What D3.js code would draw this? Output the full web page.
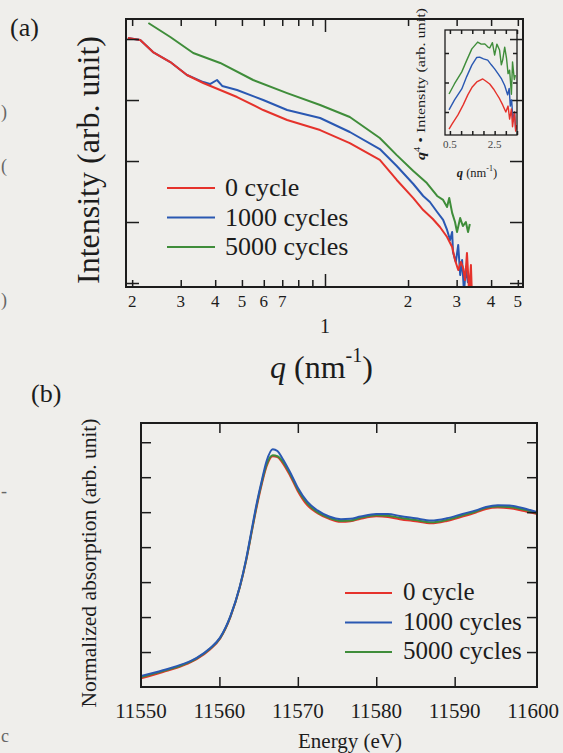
<!DOCTYPE html>
<html>
<head>
<meta charset="utf-8">
<script src="https://cdn.jsdelivr.net/npm/d3@7"></script>
<style>
  html, body { margin: 0; padding: 0; background: #efeeeb; }
  svg { display: block; }
  text { font-family: "Liberation Serif", "Times New Roman", serif; fill: #1c1c1c; }
</style>
</head>
<body>
<script>
// (a) SAXS profiles: q (nm^-1) and intensity (arb. unit)
var q0 = [0.193, 0.214, 0.238, 0.275, 0.316, 0.362, 0.417, 0.48, 0.597, 0.729, 0.96, 1.23, 1.58, 1.82, 2.09, 2.27, 2.46, 2.61, 2.77, 2.89, 2.96, 3.04, 3.11, 3.16, 3.22, 3.27, 3.33, 3.38, 3.41];
var int0 = [10400, 9640, 6120, 4200, 2570, 1900, 1460, 1120, 685, 470, 322, 197, 104, 48.9, 24.7, 15.7, 11.2, 8.28, 5.68, 3.89, 2.38, 1.63, 2.21, 1.83, 1.12, 3.1, 0.7, 1.97, 0.6];

var q1000 = [0.193, 0.214, 0.238, 0.275, 0.316, 0.362, 0.383, 0.406, 0.424, 0.48, 0.597, 0.729, 0.96, 1.23, 1.58, 1.82, 2.09, 2.27, 2.4, 2.55, 2.68, 2.77, 2.84, 2.89, 2.91, 2.98, 3.04, 3.09, 3.14, 3.19, 3.24, 3.3];
var int1000 = [10400, 9640, 6120, 4200, 2570, 1970, 1830, 2130, 1700, 1460, 1000, 685, 507, 299, 157, 82.8, 42.0, 26.7, 21.3, 14.6, 10.8, 7.4, 5.07, 6.85, 3.22, 2.21, 4.2, 1.35, 2.38, 0.7, 1.76, 1.0];

var q5000 = [0.229, 0.275, 0.333, 0.417, 0.549, 0.729, 0.96, 1.23, 1.58, 1.82, 2.09, 2.34, 2.55, 2.68, 2.77, 2.82, 2.89, 2.96, 3.01, 3.09, 3.16, 3.24, 3.3, 3.35];
var int5000 = [18300, 10800, 5890, 4050, 2130, 1300, 828, 526, 238, 125, 68.5, 43.6, 26.7, 23.0, 17.6, 24.7, 14.1, 10.0, 6.85, 11.6, 8.59, 10.0, 6.85, 9.27];

// inset: q^4 * intensity
var insetQ0 = [0.46, 0.6, 0.86, 1.1, 1.3, 1.5, 1.7, 1.97, 2.1, 2.28, 2.45, 2.59, 2.72, 2.86, 3.0, 3.1, 3.17, 3.25, 3.3, 3.39, 3.44, 3.48];
var insetV0 = [0.42, 0.6, 0.9, 1.25, 1.58, 1.85, 2.02, 2.12, 2.05, 1.95, 1.78, 1.61, 1.45, 1.24, 1.0, 1.2, 0.76, 1.1, 0.5, 1.0, 0.35, 0.56];
var insetQ1000 = [0.46, 0.7, 1.03, 1.25, 1.48, 1.7, 1.83, 2.0, 2.19, 2.35, 2.5, 2.65, 2.81, 2.95, 3.08, 3.15, 3.2, 3.26, 3.32, 3.39, 3.44, 3.48];
var insetV1000 = [1.07, 1.4, 1.78, 2.2, 2.59, 2.85, 2.86, 2.8, 2.76, 2.6, 2.46, 2.3, 2.12, 1.9, 1.58, 1.8, 1.2, 1.41, 0.7, 1.0, 0.4, 0.56];
var insetQ5000 = [0.46, 0.7, 1.03, 1.25, 1.48, 1.74, 1.9, 2.06, 2.2, 2.28, 2.4, 2.5, 2.6, 2.72, 2.8, 2.86, 2.95, 3.03, 3.1, 3.17, 3.25, 3.3, 3.38, 3.43];
var insetV5000 = [1.61, 1.95, 2.36, 2.75, 3.14, 3.37, 3.3, 3.31, 3.2, 3.17, 3.35, 2.93, 3.3, 3.1, 2.6, 2.76, 3.2, 2.83, 2.3, 2.42, 1.6, 2.7, 2.1, 2.25];

// (b) XANES: energy (eV) and normalized absorption
var xasEnergy = [11550, 11552.8, 11555.4, 11557.1, 11558.8, 11560.1, 11561.4, 11562.6, 11563.4, 11564.2, 11564.8, 11565.4, 11566.0, 11566.8, 11567.4, 11568.0, 11569.0, 11570.0, 11571.2, 11572.5, 11574.0, 11575.5, 11576.7, 11578.0, 11580.0, 11581.5, 11583.0, 11585.0, 11587.0, 11589.0, 11591.0, 11592.7, 11594.0, 11595.5, 11597.0, 11598.5, 11600.5];
var xas0 = [0.05, 0.086, 0.124, 0.16, 0.215, 0.278, 0.40, 0.57, 0.72, 0.905, 1.04, 1.16, 1.26, 1.32, 1.315, 1.285, 1.21, 1.12, 1.04, 0.995, 0.962, 0.945, 0.948, 0.962, 0.976, 0.972, 0.96, 0.948, 0.936, 0.95, 0.975, 0.998, 1.018, 1.026, 1.022, 1.01, 0.99];
var xas1000 = [0.063, 0.096, 0.132, 0.167, 0.222, 0.284, 0.405, 0.575, 0.73, 0.92, 1.06, 1.18, 1.29, 1.36, 1.35, 1.31, 1.23, 1.14, 1.06, 1.01, 0.975, 0.96, 0.962, 0.975, 0.99, 0.99, 0.978, 0.965, 0.952, 0.965, 0.99, 1.01, 1.03, 1.04, 1.038, 1.025, 1.0];
var xas5000 = [0.057, 0.091, 0.128, 0.164, 0.219, 0.281, 0.403, 0.572, 0.725, 0.91, 1.05, 1.17, 1.27, 1.325, 1.32, 1.295, 1.22, 1.13, 1.05, 1.0, 0.968, 0.95, 0.952, 0.968, 0.983, 0.98, 0.968, 0.955, 0.942, 0.956, 0.982, 1.004, 1.025, 1.033, 1.03, 1.018, 0.995];

var seriesNames = ["0 cycle", "1000 cycles", "5000 cycles"];
var seriesColors = ["#e5322b", "#2a58b2", "#3f8d3a"];

// tick values / labels
var saxsTicks = [0.2, 0.3, 0.4, 0.5, 0.6, 0.7, 1, 2, 3, 4, 5];
var saxsTickLabels = ["2", "3", "4", "5", "6", "7", "1", "2", "3", "4", "5"];
var saxsMinorTicks = [0.2, 0.3, 0.4, 0.5, 0.6, 0.7, 0.8, 0.9, 2, 3, 4, 5];
var saxsYTicks = [1, 10, 100, 1000, 10000];
var insetXTicks = [0.5, 1, 1.5, 2, 2.5, 3, 3.5];
var insetXLabels = [0.5, 2.5];
var insetYTicks = [1, 2, 3];
var xasXTicks = [11550, 11560, 11570, 11580, 11590, 11600];
var xasYTicks = [0.2, 0.4, 0.6, 0.8, 1.0, 1.2, 1.4];

function zip(xs, ys) {
  return xs.map(function (x, i) { return [x, ys[i]]; });
}

function tickAxis(g, axis) {
  g.call(axis);
  g.select(".domain").remove();
  g.selectAll("line").attr("stroke", "#1c1c1c").attr("stroke-width", 1.5);
  g.selectAll("text").remove();
}

function main() {
  var svg = d3
    .select("body")
    .append("svg")
    .attr("width", 563)
    .attr("height", 753);

  // scraps of the neighbouring column at the left edge of the scan
  var scraps = [[")", 118], ["(", 172], [")", 306], ["-", 497], ["c", 742]];
  svg.selectAll("text.scrap").data(scraps).enter().append("text")
    .attr("class", "scrap")
    .attr("x", 1).attr("y", function (d) { return d[1]; })
    .attr("font-size", 18).style("fill", "#666")
    .text(function (d) { return d[0]; });

  // ================= panel (a) =================
  var xA = d3.scaleLog().domain([0.19, 5.22]).range([126, 523]);
  var yA = d3.scaleLog().domain([0.86, 21300]).range([287, 19]);

  svg.append("text").attr("x", 10).attr("y", 36).attr("font-size", 26).text("(a)");

  svg.append("clipPath").attr("id", "clipA").append("rect")
    .attr("x", 126).attr("y", 19).attr("width", 397).attr("height", 268);

  var lineA = d3.line().x(function (d) { return xA(d[0]); }).y(function (d) { return yA(d[1]); });
  var saxs = [zip(q0, int0), zip(q1000, int1000), zip(q5000, int5000)];
  var order = [2, 1, 0];
  var gA = svg.append("g").attr("clip-path", "url(#clipA)");
  order.forEach(function (k) {
    gA.append("path").datum(saxs[k])
      .attr("fill", "none").attr("stroke", seriesColors[k])
      .attr("stroke-width", 2).attr("stroke-linejoin", "round")
      .attr("d", lineA);
  });

  tickAxis(svg.append("g").attr("transform", "translate(0,287)"),
    d3.axisBottom(xA).tickValues(saxsMinorTicks).tickSize(-7));
  tickAxis(svg.append("g").attr("transform", "translate(0,19)"),
    d3.axisTop(xA).tickValues(saxsMinorTicks).tickSize(-7));
  tickAxis(svg.append("g").attr("transform", "translate(0,287)"),
    d3.axisBottom(xA).tickValues([1]).tickSize(-13));
  tickAxis(svg.append("g").attr("transform", "translate(0,19)"),
    d3.axisTop(xA).tickValues([1]).tickSize(-13));
  tickAxis(svg.append("g").attr("transform", "translate(126,0)"),
    d3.axisLeft(yA).tickValues(saxsYTicks).tickSize(-13));
  tickAxis(svg.append("g").attr("transform", "translate(523,0)"),
    d3.axisRight(yA).tickValues(saxsYTicks).tickSize(-13));

  svg.append("rect").attr("x", 126).attr("y", 19).attr("width", 397).attr("height", 268)
    .attr("fill", "none").attr("stroke", "#1c1c1c").attr("stroke-width", 2);

  svg.selectAll("text.xa").data(saxsTicks).enter().append("text")
    .attr("class", "xa")
    .attr("x", function (d) { return xA(d); })
    .attr("y", function (d) { return d === 1 ? 333 : 307; })
    .attr("text-anchor", "middle")
    .attr("font-size", function (d) { return d === 1 ? 20 : 17; })
    .text(function (d, i) { return saxsTickLabels[i]; });

  var xt = svg.append("text").attr("x", 270).attr("y", 378).attr("font-size", 32);
  xt.append("tspan").attr("font-style", "italic").text("q");
  xt.append("tspan").text(" (nm");
  xt.append("tspan").attr("dy", -16).attr("font-size", 20).text("-1");
  xt.append("tspan").attr("dy", 16).text(")");

  svg.append("text")
    .attr("transform", "translate(99,160) rotate(-90)")
    .attr("text-anchor", "middle").attr("font-size", 32)
    .text("Intensity (arb. unit)");

  // legend (a)
  seriesNames.forEach(function (name, i) {
    var y = 188 + i * 29.5;
    svg.append("line").attr("x1", 167).attr("x2", 215).attr("y1", y).attr("y2", y)
      .attr("stroke", seriesColors[i]).attr("stroke-width", 2.2);
    svg.append("text").attr("x", 225).attr("y", y + 8).attr("font-size", 26).text(name);
  });

  // ---- inset
  var xI = d3.scaleLinear().domain([0.28, 3.5]).range([445, 517]);
  var yI = d3.scaleLinear().domain([0.22, 3.78]).range([135, 30]);
  svg.append("clipPath").attr("id", "clipI").append("rect")
    .attr("x", 445).attr("y", 30).attr("width", 72).attr("height", 105);
  var lineI = d3.line().x(function (d) { return xI(d[0]); }).y(function (d) { return yI(d[1]); });
  var inset = [zip(insetQ0, insetV0), zip(insetQ1000, insetV1000), zip(insetQ5000, insetV5000)];
  var gI = svg.append("g").attr("clip-path", "url(#clipI)");
  order.forEach(function (k) {
    gI.append("path").datum(inset[k])
      .attr("fill", "none").attr("stroke", seriesColors[k])
      .attr("stroke-width", 1.4).attr("stroke-linejoin", "round")
      .attr("d", lineI);
  });
  tickAxis(svg.append("g").attr("transform", "translate(0,135)"),
    d3.axisBottom(xI).tickValues(insetXTicks).tickSize(-4));
  tickAxis(svg.append("g").attr("transform", "translate(0,30)"),
    d3.axisTop(xI).tickValues(insetXTicks).tickSize(-4));
  tickAxis(svg.append("g").attr("transform", "translate(445,0)"),
    d3.axisLeft(yI).tickValues(insetYTicks).tickSize(-4));
  tickAxis(svg.append("g").attr("transform", "translate(517,0)"),
    d3.axisRight(yI).tickValues(insetYTicks).tickSize(-4));
  svg.append("rect").attr("x", 445).attr("y", 30).attr("width", 72).attr("height", 105)
    .attr("fill", "none").attr("stroke", "#1c1c1c").attr("stroke-width", 1.3);
  svg.selectAll("text.xi").data(insetXLabels).enter().append("text")
    .attr("class", "xi")
    .attr("x", function (d) { return xI(d); }).attr("y", 148)
    .attr("text-anchor", "middle").attr("font-size", 11).style("fill", "#444")
    .text(function (d) { return d.toFixed(1); });
  var it = svg.append("text").attr("x", 477).attr("y", 177).attr("text-anchor", "middle").attr("font-size", 12.5);
  it.append("tspan").attr("font-style", "italic").attr("font-weight", "bold").text("q");
  it.append("tspan").text(" (nm");
  it.append("tspan").attr("dy", -6).attr("font-size", 8).text("-1");
  it.append("tspan").attr("dy", 6).text(")");
  var iy = svg.append("text")
    .attr("transform", "translate(425,84) rotate(-90)")
    .attr("text-anchor", "middle").attr("font-size", 12.5)
    .attr("textLength", 152).attr("lengthAdjust", "spacingAndGlyphs");
  iy.append("tspan").attr("font-style", "italic").attr("font-weight", "bold").text("q");
  iy.append("tspan").attr("dy", -5).attr("font-size", 8).text("4");
  iy.append("tspan").attr("dy", 5).text(" \u2022 Intensity (arb. unit)");

  // ================= panel (b) =================
  var xB = d3.scaleLinear().domain([11550, 11600.5]).range([141, 537]);
  var yB = d3.scaleLinear().domain([0, 1.51]).range([687, 423]);

  svg.append("text").attr("x", 31).attr("y", 402).attr("font-size", 26).text("(b)");

  svg.append("clipPath").attr("id", "clipB").append("rect")
    .attr("x", 141).attr("y", 423).attr("width", 396).attr("height", 264);
  var lineB = d3.line().curve(d3.curveMonotoneX)
    .x(function (d) { return xB(d[0]); }).y(function (d) { return yB(d[1]); });
  var xas = [zip(xasEnergy, xas0), zip(xasEnergy, xas1000), zip(xasEnergy, xas5000)];
  var gB = svg.append("g").attr("clip-path", "url(#clipB)");
  [0, 2, 1].forEach(function (k) {
    gB.append("path").datum(xas[k])
      .attr("fill", "none").attr("stroke", seriesColors[k])
      .attr("stroke-width", 2).attr("d", lineB);
  });

  tickAxis(svg.append("g").attr("transform", "translate(0,687)"),
    d3.axisBottom(xB).tickValues(xasXTicks.slice(1, 5)).tickSize(-10));
  tickAxis(svg.append("g").attr("transform", "translate(0,423)"),
    d3.axisTop(xB).tickValues(xasXTicks.slice(1, 5)).tickSize(-10));
  tickAxis(svg.append("g").attr("transform", "translate(141,0)"),
    d3.axisLeft(yB).tickValues(xasYTicks).tickSize(-10));
  tickAxis(svg.append("g").attr("transform", "translate(537,0)"),
    d3.axisRight(yB).tickValues(xasYTicks).tickSize(-10));
  svg.append("rect").attr("x", 141).attr("y", 423).attr("width", 396).attr("height", 264)
    .attr("fill", "none").attr("stroke", "#1c1c1c").attr("stroke-width", 2);

  svg.selectAll("text.xb").data(xasXTicks).enter().append("text")
    .attr("class", "xb")
    .attr("x", function (d) { return xB(d); }).attr("y", 718)
    .attr("text-anchor", "middle").attr("font-size", 21)
    .text(function (d) { return d; });

  svg.append("text").attr("x", 350).attr("y", 748).attr("text-anchor", "middle")
    .attr("font-size", 21).text("Energy (eV)");

  svg.append("text")
    .attr("transform", "translate(96,563) rotate(-90)")
    .attr("text-anchor", "middle").attr("font-size", 21.5)
    .text("Normalized absorption (arb. unit)");

  // legend (b)
  seriesNames.forEach(function (name, i) {
    var y = 593 + i * 29.5;
    svg.append("line").attr("x1", 345).attr("x2", 392).attr("y1", y).attr("y2", y)
      .attr("stroke", seriesColors[i]).attr("stroke-width", 2.2);
    svg.append("text").attr("x", 403).attr("y", y + 7).attr("font-size", 25).text(name);
  });
}
document.addEventListener("DOMContentLoaded", main);
</script>
</body>
</html>
